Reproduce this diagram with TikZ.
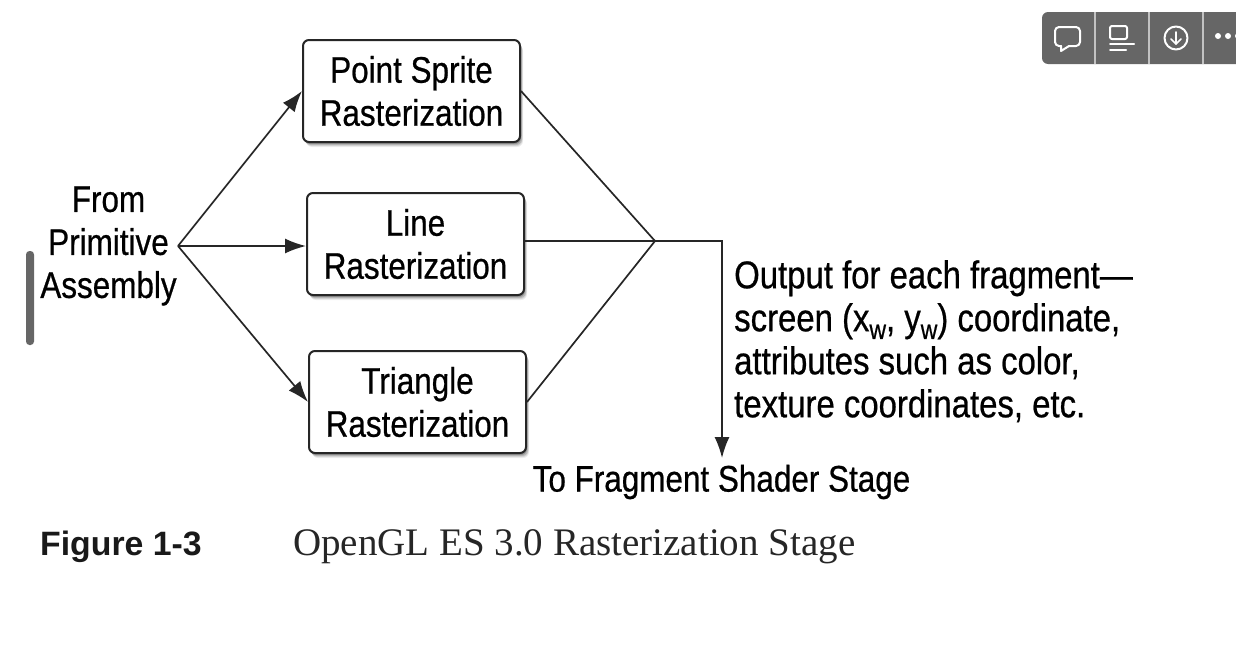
\documentclass[tikz,border=0pt]{standalone}
\usepackage{fontspec}
\setmainfont[FakeStretch=0.85,FakeBold=0.6]{Liberation Sans}
\newfontfamily\capsans{Liberation Sans}
\newfontfamily\capserif{Liberation Serif}
\usetikzlibrary{arrows.meta,shadows,calc}
\definecolor{barcol}{HTML}{666666}
\newcommand{\sbw}{\raisebox{-0.2em}{\fontsize{27}{27}\selectfont w}}
\tikzset{
  x=1pt,y=-1pt,
  lab/.style={font=\fontsize{37}{43}\selectfont,inner sep=0pt,text=black},
  rastbox/.style={lab,draw=black!85,line width=2pt,rounded corners=6pt,fill=white,minimum width=217pt,minimum height=102pt,align=center,
    general shadow={shadow xshift=3pt,shadow yshift=-5pt,fill=black,opacity=0.07,rounded corners=8pt},
    general shadow={shadow xshift=2.5pt,shadow yshift=-4pt,fill=black,opacity=0.10,rounded corners=7pt},
    general shadow={shadow xshift=2pt,shadow yshift=-3pt,fill=black,opacity=0.14},
    general shadow={shadow xshift=1pt,shadow yshift=-2pt,fill=black,opacity=0.20}},
  conn/.style={draw=black!85,line width=1.7pt},
  arrowconn/.style={conn,-{Latex[length=21pt,width=15pt]}},
  tool/.style={draw=white,line width=2pt,line cap=round,line join=round},
  divider/.style={draw=white!60!barcol,line width=1.5pt}
}
\begin{document}
\begin{tikzpicture}
\useasboundingbox (0,0) rectangle (1236,656);
% boxes
\node[rastbox] (point) at (411.5,91) {\raisebox{1pt}{\shortstack{}}Point Sprite\\Rasterization};
\node[rastbox] (line) at (415.5,244) {Line\\Rasterization};
\node[rastbox] (tri) at (417.5,402) {Triangle\\Rasterization};
% labels
\node[lab,align=center] (from) at (108.5,246) {From\\Primitive\\Assembly};
\node[lab,align=left,anchor=north west,font=\fontsize{38.7}{43}\selectfont] (out) at (734,260) {Output for each fragment—\\screen (x\sbw, y\sbw) coordinate,\\attributes such as color,\\texture coordinates, etc.};
\node[lab] (dest) at (721.5,482) {To Fragment Shader Stage};
% connectors
\coordinate (src) at (178,246);
\coordinate (merge) at (655,241);
\coordinate (bend) at (722,241);
\coordinate (tip) at (722,458);
\draw[arrowconn] (src) -- (point.west);
\draw[arrowconn] (src) -- (line.west |- src);
\draw[arrowconn] (src) -- (tri.west);
\draw[conn] (point.east) -- (merge);
\draw[conn] (line.east |- merge) -- (merge);
\draw[conn] (tri.east) -- (merge);
\draw[arrowconn] (merge) -- (bend) -- (tip);
% caption
\node[anchor=base west,inner sep=0pt,font=\capsans\bfseries\fontsize{33.8}{34}\selectfont,text=black!90] (figno) at (40,555) {Figure 1-3};
\node[anchor=base west,inner sep=0pt,font=\capserif\fontsize{39}{39}\selectfont,text=black!85] (figcap) at (293,555) {OpenGL ES 3.0 Rasterization Stage};
% scrollbar
\fill[barcol,rounded corners=3.5pt] (26,251) rectangle (34,345);
% toolbar
\begin{scope}
\clip (0,0) rectangle (1236,656);
\fill[barcol,rounded corners=6pt] (1042,12) rectangle (1260,64);
\draw[divider] (1095,12) -- (1095,64);
\draw[divider] (1149,12) -- (1149,64);
\draw[divider] (1203,12) -- (1203,64);
\draw[tool,rounded corners=4pt] (1061,46) -- (1055,46) -- (1055,27) -- (1080,27) -- (1080,46) -- (1069,46);
\draw[tool,line join=round] (1069,46) -- (1061,51) -- (1061,46);
\draw[tool,rounded corners=2pt] (1110,26) rectangle (1127,39);
\draw[tool] (1110,44) -- (1134,44);
\draw[tool] (1110,50) -- (1126,50);
\draw[tool] (1176,38) circle (11.5);
\draw[tool,line width=1.7pt] (1176,32) -- (1176,44);
\draw[tool,line width=1.7pt] (1171,39) -- (1176,44) -- (1181,39);
\fill[white] (1218,36) circle (3);
\fill[white] (1228,36) circle (3);
\fill[white] (1238,36) circle (3);
\end{scope}
\end{tikzpicture}
\end{document}
